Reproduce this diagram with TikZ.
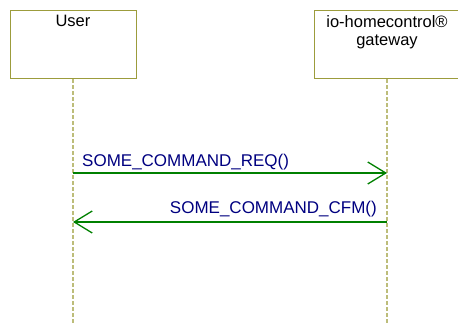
\documentclass[tikz,border=0pt]{standalone}
\usepackage{fontspec}
\setmainfont{Liberation Sans}
\usetikzlibrary{arrows.meta}
\definecolor{boxolive}{HTML}{9C9C3C}
\definecolor{lineolive}{HTML}{BDBD7A}
\definecolor{msggreen}{HTML}{008000}
\definecolor{msgnavy}{HTML}{000080}

\begin{document}
\begin{tikzpicture}[x=1pt,y=-1pt,
    lifebox/.style={draw=boxolive, line width=1pt, minimum height=68pt, inner sep=0pt},
    boxtitle/.style={anchor=north, align=center, inner sep=0pt,
      font=\fontsize{16.5}{18.5}\selectfont},
    lifeline/.style={draw=lineolive, line width=1.5pt, dash pattern=on 4pt off 2pt},
    msg/.style={draw=msggreen, line width=1.3pt,
      -{Straight Barb[length=18pt,width=22pt]}},
    msglabel/.style={text=msgnavy, inner sep=0pt, font=\fontsize{17}{20}\selectfont}]
  \useasboundingbox (0,0) rectangle (458,323);

  % actors
  \node[lifebox, minimum width=126pt] (user) at (73,45) {};
  \node[lifebox, minimum width=146pt] (gw) at (387,45) {};
  \node[boxtitle] (usertitle) at (73,15) {User};
  \node[boxtitle] (gwtitle) at (387,15) {io-homecontrol®\\gateway};

  % lifelines
  \coordinate (userend) at (73,323);
  \coordinate (gwend) at (387,323);
  \draw[lifeline] (user.south) -- (userend);
  \draw[lifeline] (gw.south) -- (gwend);

  % messages
  \coordinate (req-u) at (73,173);
  \coordinate (req-g) at (387,173);
  \coordinate (cfm-u) at (73,222);
  \coordinate (cfm-g) at (387,222);
  \draw[msg] (req-u) -- (req-g);
  \node[msglabel, anchor=base west] (reqlabel) at (82,167) {SOME\_COMMAND\_REQ()};
  \draw[msg] (cfm-g) -- (cfm-u);
  \node[msglabel, anchor=base east] (cfmlabel) at (377,214) {SOME\_COMMAND\_CFM()};
\end{tikzpicture}
\end{document}
